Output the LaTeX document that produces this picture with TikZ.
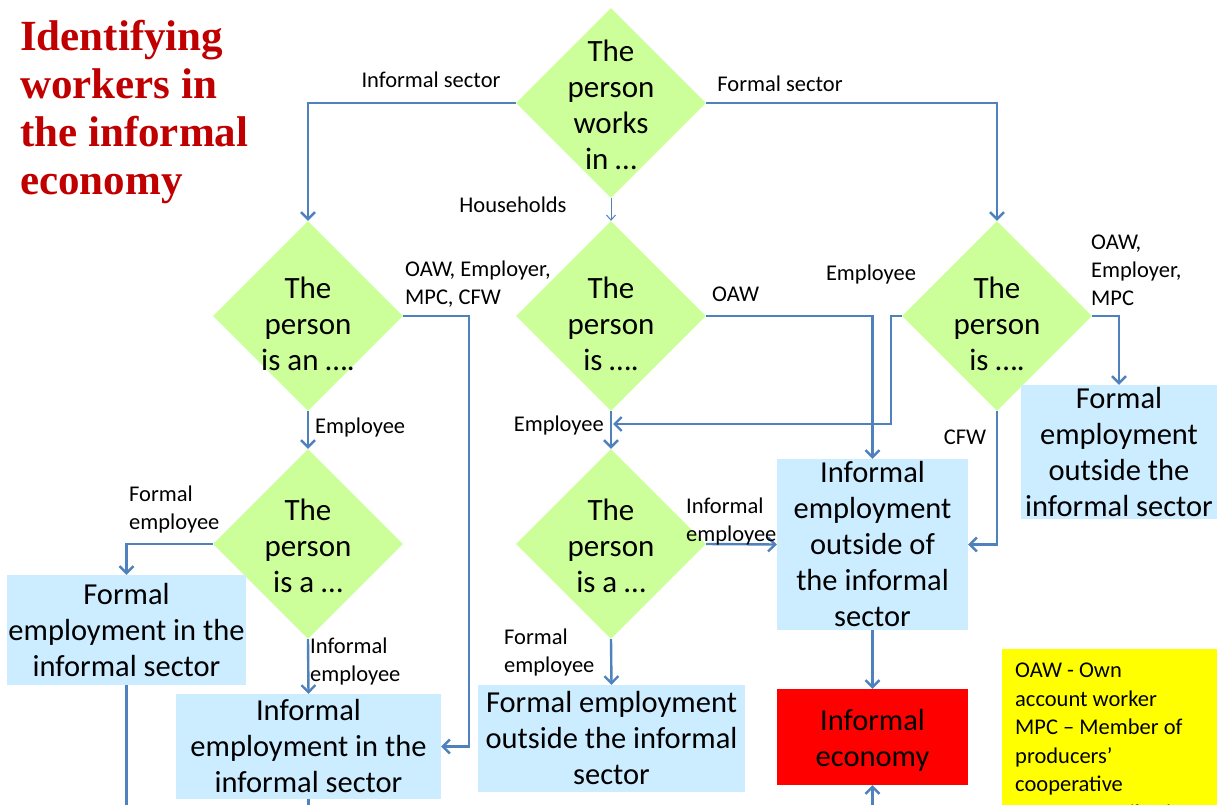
\documentclass[tikz,border=0pt]{standalone}
\usepackage{fontspec}
\setmainfont{Carlito}
\newfontfamily\titlefont{Liberation Serif}
\usetikzlibrary{shapes.geometric,arrows.meta,calc}
\definecolor{dgreen}{HTML}{CCFF99}
\definecolor{lblue}{HTML}{CCECFF}
\definecolor{lineblue}{HTML}{4F81BD}
\definecolor{titlered}{HTML}{C00000}
\definecolor{boxred}{HTML}{FF0000}
\definecolor{legyellow}{HTML}{FFFF00}
\begin{document}
\begin{tikzpicture}[x=1pt,y=-1pt,
  conn/.style={draw=lineblue, line width=2.4pt, -{Straight Barb[length=7pt,width=14pt]}},
  thinconn/.style={draw=lineblue, line width=1pt, -{Straight Barb[length=5pt,width=9pt]}},
  plain/.style={draw=lineblue, line width=2.4pt},
  dia/.style={diamond, fill=dgreen, minimum width=190pt, minimum height=190pt, inner sep=0pt},
  dtext/.style={align=center, font=\fontsize{31}{36}\selectfont, inner sep=0pt},
  box/.style={rectangle, fill=lblue, inner sep=0pt, align=center, font=\fontsize{30.5}{36}\selectfont},
  lbl/.style={inner sep=0pt, align=left, font=\fontsize{22.5}{28}\selectfont},
]
\useasboundingbox (0,0) rectangle (1225,805);
\clip (0,0) rectangle (1225,805);

% title
\node[anchor=north west, align=left, text=titlered, inner sep=0pt,
      font=\titlefont\bfseries\fontsize{43}{48}\selectfont] (title) at (20,20)
  {Identifying\\workers in\\the informal\\economy};

% diamonds
\node[dia] (d0) at (611,103) {};
\node[dtext] (d0t) at (611,105) {The\\person\\works\\in …};
\node[dia] (d1) at (308,316) {};
\node[dtext] (d1t) at (308,324) {The\\person\\is an ….};
\node[dia] (d2) at (611,316) {};
\node[dtext] (d2t) at (611,324) {The\\person\\is ….};
\node[dia] (d3) at (997,316) {};
\node[dtext] (d3t) at (997,324) {The\\person\\is ….};
\node[dia] (d4) at (308,544) {};
\node[dtext] (d4t) at (308,546) {The\\person\\is a …};
\node[dia] (d5) at (611,544) {};
\node[dtext] (d5t) at (611,546) {The\\person\\is a …};

% result boxes
\node[box, minimum width=239pt, minimum height=110pt] (b1) at (126.5,630)
  {Formal\\employment in the\\informal sector};
\node[box, minimum width=265pt, minimum height=105pt] (b2) at (308.5,746.5)
  {Informal\\employment in the\\informal sector};
\node[box, minimum width=267pt, minimum height=107pt] (b3) at (611.5,738.5)
  {Formal employment\\outside the informal\\sector};
\node[box, minimum width=191pt, minimum height=171pt] (b4) at (872.5,544.5)
  {Informal\\employment\\outside of\\the informal\\sector};
\node[box, fill=boxred, minimum width=191pt, minimum height=96pt] (b5) at (872.5,737) {};
\node[font=\fontsize{30.5}{36}\selectfont, align=center, inner sep=0pt] (b5t) at (872.5,740)
  {Informal\\economy};
\node[box, minimum width=196pt, minimum height=134pt] (b6) at (1119,452)
  {Formal\\employment\\outside the\\informal sector};

% legend
\node[anchor=north west, fill=legyellow, minimum width=215pt, minimum height=200pt, inner sep=0pt] (leg) at (1002,649) {};
\node[lbl, anchor=north west, font=\fontsize{22.5}{28.5}\selectfont] (legt) at (1015,663)
  {OAW - Own\\account worker\\MPC – Member of\\producers’\\cooperative\\CFW – Contributing\\family worker};

% helper coordinates
\coordinate (j2) at (613,424);
\coordinate (ob) at (0,840);

% connectors
\draw[conn] (d0.west) -| (d1.north);
\draw[conn] (d0.east) -| (d3.north);
\draw[thinconn] (d0.south) -- (d2.north);
\draw[conn] (d1.east) -- ++(66,0) |- (b2.east);
\draw[conn] (d1.south) -- (d4.north);
\draw[conn] (d2.east) -| (b4.north);
\draw[conn] (d2.south) -- (d5.north);
\draw[conn] (d3.west) -- ++(-11,0) |- (j2);
\draw[conn] (d3.east) -| (b6.north);
\draw[conn] (d3.south) |- (b4.east);
\draw[conn] (d4.west) -| (b1.north);
\draw[conn] (d4.south) -- (b2.north);
\draw[conn] (d5.east) -- (b4.west);
\draw[conn] (d5.south) -- (b3.north);
\draw[conn] (b4.south) -- (b5.north);
\draw[plain] (b1.south) -- (b1.south |- ob);
\draw[plain] (b2.south) -- (b2.south |- ob);
\draw[conn] (b5.south |- ob) -- (b5.south);

% connector labels
\node[lbl] (l1) at (431,80) {Informal sector};
\node[lbl] (l2) at (780,84) {Formal sector};
\node[lbl] (l3) at (513,205) {Households};
\node[lbl, anchor=west] (l4) at (405,284) {OAW, Employer,\\MPC, CFW};
\node[lbl, anchor=west] (l5) at (315,427) {Employee};
\node[lbl, anchor=west] (l6) at (712,294) {OAW};
\node[lbl, anchor=east] (l7) at (604,425) {Employee};
\node[lbl] (l8) at (871,275) {Employee};
\node[lbl, anchor=west] (l9) at (1091,270) {OAW,\\Employer,\\MPC};
\node[lbl] (l10) at (965,437) {CFW};
\node[lbl, anchor=west] (l11) at (129,509) {Formal\\employee};
\node[lbl, anchor=west] (l12) at (310,661) {Informal\\employee};
\node[lbl, anchor=west] (l13) at (686,521) {Informal\\employee};
\node[lbl, anchor=west] (l14) at (504,652) {Formal\\employee};
\end{tikzpicture}
\end{document}
